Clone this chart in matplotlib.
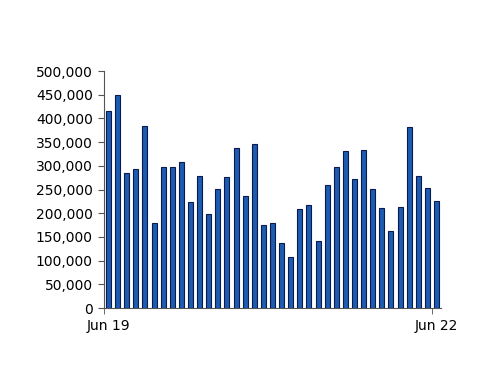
import numpy as np
import matplotlib.pyplot as plt
from matplotlib.ticker import FuncFormatter

values = [416, 449, 284, 293, 384, 180, 298, 298, 308, 224, 278, 198, 252,
          276, 338, 236, 346, 176, 179, 137, 107, 209, 217, 142, 259, 297,
          332, 272, 333, 252, 212, 162, 214, 382, 278, 253, 226]
values = np.array(values) * 1000
x_labels = {0: "Jun 19", 36: "Jun 22"}

fig = plt.figure(figsize=(5, 3.86), dpi=100)
ax = fig.add_axes([0.208, 0.202, 0.674, 0.614])

x = np.arange(len(values))
ax.bar(x, values, width=0.55, color="#1d5cb0", edgecolor="#0a1a50", linewidth=0.8)

ax.set_xlim(-0.5, len(values) - 0.5)
ax.set_ylim(0, 500000)
ax.set_yticks(np.arange(0, 500001, 50000))
ax.yaxis.set_major_formatter(FuncFormatter(lambda v, p: f"{int(v):,}"))

ax.set_xticks(list(x_labels.keys()))
ax.set_xticklabels(list(x_labels.values()))
ax.set_xticks([-0.5, 35.5], minor=True)
ax.tick_params(axis="x", which="major", length=0, pad=8, labelsize=10)
ax.tick_params(axis="x", which="minor", length=4, color="#555555")
ax.tick_params(axis="y", length=4, color="#555555", labelsize=10, pad=4)

for side in ["top", "right"]:
    ax.spines[side].set_visible(False)
for side in ["left", "bottom"]:
    ax.spines[side].set_color("#555555")

fig.savefig("out.png", dpi=100)
